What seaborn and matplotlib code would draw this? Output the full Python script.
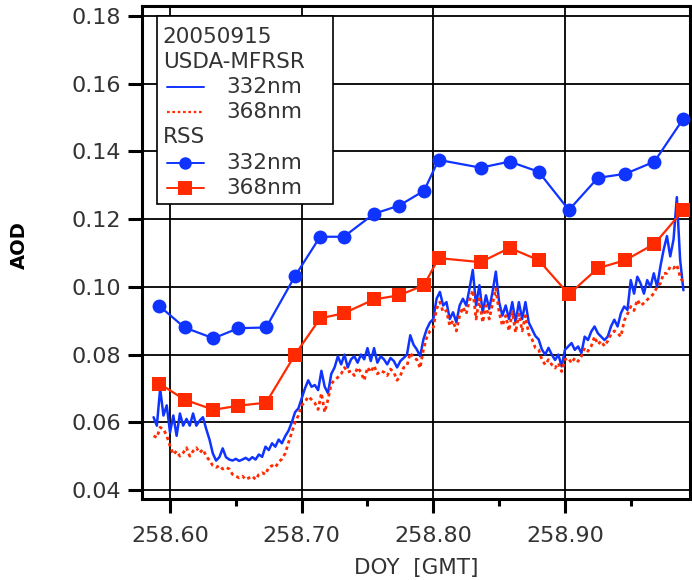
import numpy as np
import pandas as pd
import matplotlib
matplotlib.use("Agg")
import matplotlib.pyplot as plt
from matplotlib.lines import Line2D
from matplotlib.patches import Rectangle
from matplotlib.ticker import MultipleLocator, FormatStrFormatter
import seaborn as sns

# ---- USDA-MFRSR record (fixed sampling interval in DOY) ----
mfrsr_start = 258.5875
mfrsr_step = 0.0025
mfrsr_332 = [
    0.0615, 0.0590, 0.0700, 0.0620, 0.0650, 0.0570, 0.0620, 0.0560, 0.0626, 0.0590,
    0.0610, 0.0590, 0.0626, 0.0590, 0.0605, 0.0615, 0.0580, 0.0549, 0.0508, 0.0487,
    0.0497, 0.0523, 0.0497, 0.0490, 0.0487, 0.0492, 0.0486, 0.0490, 0.0495, 0.0488,
    0.0497, 0.0490, 0.0505, 0.0498, 0.0528, 0.0518, 0.0538, 0.0528, 0.0549, 0.0538,
    0.0559, 0.0575, 0.0600, 0.0630, 0.0641, 0.0670, 0.0700, 0.0724, 0.0705, 0.0710,
    0.0695, 0.0752, 0.0705, 0.0686, 0.0743, 0.0762, 0.0795, 0.0771, 0.0800, 0.0762,
    0.0786, 0.0795, 0.0776, 0.0800, 0.0786, 0.0819, 0.0781, 0.0819, 0.0776, 0.0795,
    0.0786, 0.0771, 0.0790, 0.0781, 0.0762, 0.0781, 0.0790, 0.0800, 0.0857, 0.0829,
    0.0815, 0.0795, 0.0845, 0.0875, 0.0895, 0.0905, 0.0965, 0.0985, 0.0945, 0.0955,
    0.0905, 0.0925, 0.0895, 0.0945, 0.0965, 0.0945, 0.0995, 0.1050, 0.0945, 0.1005,
    0.0925, 0.0975, 0.0935, 0.0985, 0.1045, 0.0955, 0.0915, 0.0945, 0.0905, 0.0955,
    0.0895, 0.0955, 0.0905, 0.0955, 0.0895, 0.0875, 0.0855, 0.0845, 0.0815, 0.0800,
    0.0820, 0.0800, 0.0784, 0.0800, 0.0765, 0.0814, 0.0824, 0.0834, 0.0814, 0.0824,
    0.0804, 0.0853, 0.0843, 0.0868, 0.0883, 0.0863, 0.0853, 0.0843, 0.0853, 0.0883,
    0.0903, 0.0883, 0.0922, 0.0942, 0.0932, 0.1020, 0.0980, 0.1030, 0.1010, 0.0980,
    0.1020, 0.1000, 0.1040, 0.1000, 0.1060, 0.1110, 0.1150, 0.1090, 0.1140, 0.1265,
    0.1080, 0.0990,
]
mfrsr_368 = [
    0.0560, 0.0555, 0.0585, 0.0580, 0.0560, 0.0530, 0.0505, 0.0515, 0.0500, 0.0510,
    0.0525, 0.0500, 0.0515, 0.0525, 0.0510, 0.0520, 0.0500, 0.0487, 0.0472, 0.0467,
    0.0472, 0.0462, 0.0467, 0.0462, 0.0446, 0.0441, 0.0436, 0.0441, 0.0431, 0.0436,
    0.0441, 0.0431, 0.0446, 0.0451, 0.0446, 0.0467, 0.0472, 0.0467, 0.0482, 0.0492,
    0.0508, 0.0540, 0.0570, 0.0600, 0.0620, 0.0650, 0.0660, 0.0676, 0.0667, 0.0657,
    0.0638, 0.0686, 0.0630, 0.0667, 0.0714, 0.0724, 0.0733, 0.0743, 0.0762, 0.0748,
    0.0752, 0.0738, 0.0762, 0.0748, 0.0724, 0.0762, 0.0748, 0.0767, 0.0743, 0.0752,
    0.0748, 0.0738, 0.0757, 0.0748, 0.0724, 0.0738, 0.0762, 0.0767, 0.0805, 0.0791,
    0.0785, 0.0760, 0.0815, 0.0850, 0.0870, 0.0880, 0.0935, 0.0955, 0.0925, 0.0930,
    0.0885, 0.0900, 0.0870, 0.0915, 0.0940, 0.0920, 0.0960, 0.0990, 0.0905, 0.0965,
    0.0895, 0.0945, 0.0905, 0.0950, 0.0995, 0.0925, 0.0885, 0.0915, 0.0870, 0.0925,
    0.0865, 0.0920, 0.0870, 0.0915, 0.0860, 0.0845, 0.0820, 0.0815, 0.0785, 0.0770,
    0.0785, 0.0770, 0.0760, 0.0775, 0.0750, 0.0785, 0.0790, 0.0775, 0.0790, 0.0780,
    0.0795, 0.0820, 0.0810, 0.0825, 0.0853, 0.0830, 0.0840, 0.0825, 0.0840, 0.0860,
    0.0870, 0.0863, 0.0853, 0.0900, 0.0920, 0.0942, 0.0930, 0.0962, 0.0945, 0.0952,
    0.0962, 0.0971, 0.0980, 0.1000, 0.1010, 0.1040, 0.1040, 0.1060, 0.1055, 0.1065,
    0.1030, 0.1010,
]

# ---- RSS retrievals ----
rss_doy = [258.592, 258.611, 258.633, 258.652, 258.673, 258.695, 258.714, 258.732,
           258.755, 258.774, 258.793, 258.804, 258.836, 258.858, 258.880, 258.903,
           258.925, 258.946, 258.968, 258.990]
rss_332 = [0.0943, 0.0880, 0.0848, 0.0878, 0.0880, 0.1032, 0.1148, 0.1148, 0.1216, 0.1240,
           0.1284, 0.1375, 0.1352, 0.1370, 0.1340, 0.1227, 0.1322, 0.1334, 0.1370, 0.1497]
rss_368 = [0.0714, 0.0667, 0.0637, 0.0649, 0.0658, 0.0800, 0.0907, 0.0922, 0.0963, 0.0975,
           0.1005, 0.1085, 0.1073, 0.1115, 0.1079, 0.0978, 0.1055, 0.1079, 0.1127, 0.1227]

x_ticks = [258.60, 258.70, 258.80, 258.90]
y_ticks = [0.04, 0.06, 0.08, 0.10, 0.12, 0.14, 0.16, 0.18]

legend_rows = ["20050915", "USDA-MFRSR", "332nm", "368nm", "RSS", "332nm", "368nm"]

BLUE = "#1034FF"
RED = "#FF2A00"
TICK_GREY = "#333333"
DOTTED = (0, (1.2, 1.2))

sns.set_theme(style="ticks")
plt.rcParams["font.family"] = ["DejaVu Sans"]

mfrsr = pd.DataFrame({
    "doy": mfrsr_start + mfrsr_step * np.arange(len(mfrsr_332)),
    "aod332": mfrsr_332,
    "aod368": mfrsr_368,
})
rss = pd.DataFrame({"doy": rss_doy, "aod332": rss_332, "aod368": rss_368})

fig = plt.figure(figsize=(6.92, 5.80), dpi=100)
ax = fig.add_axes([0.2048, 0.1391, 0.7923, 0.8514])

# grid underneath the data
for xv in x_ticks:
    ax.axvline(xv, color="black", lw=1.3, zorder=0.5)
for yv in y_ticks:
    ax.axhline(yv, color="black", lw=1.3, zorder=0.5)

sns.lineplot(data=mfrsr, x="doy", y="aod332", ax=ax, color=BLUE, lw=1.8,
             estimator=None, sort=False, legend=False, zorder=2)
sns.lineplot(data=mfrsr, x="doy", y="aod368", ax=ax, color=RED, lw=2.0,
             linestyle=DOTTED, estimator=None, sort=False, legend=False, zorder=2.5)
sns.lineplot(data=rss, x="doy", y="aod332", ax=ax, color=BLUE, lw=1.6,
             marker="o", markersize=10, markeredgewidth=0, markerfacecolor=BLUE,
             estimator=None, sort=False, legend=False, zorder=3)
sns.lineplot(data=rss, x="doy", y="aod368", ax=ax, color=RED, lw=1.6,
             marker="s", markersize=10, markeredgewidth=0, markerfacecolor=RED,
             estimator=None, sort=False, legend=False, zorder=3)

ax.set_xlim(258.5785, 258.995)
ax.set_ylim(0.03725, 0.1831)
ax.set_xticks(x_ticks)
ax.set_yticks(y_ticks)
ax.xaxis.set_minor_locator(MultipleLocator(0.05))
ax.xaxis.set_major_formatter(FormatStrFormatter("%.2f"))
ax.yaxis.set_major_formatter(FormatStrFormatter("%.2f"))
ax.tick_params(axis="both", which="major", direction="out", length=10, width=2.2,
               color="black", labelsize=16, labelcolor=TICK_GREY)
ax.tick_params(axis="x", which="major", pad=9)
ax.tick_params(axis="y", which="major", pad=5)
ax.tick_params(axis="x", which="minor", direction="out", length=5, width=2.2, color="black")
for sp in ax.spines.values():
    sp.set_visible(True)
    sp.set_color("black")
    sp.set_linewidth(2.2)

ax.set_xlabel("DOY  [GMT]", fontsize=15.5, color=TICK_GREY,
              family=["Liberation Sans Narrow", "DejaVu Sans"])
ax.xaxis.set_label_coords(0.5, -0.118)
ax.set_ylabel("AOD", fontsize=14, fontweight="bold", color="black")
ax.yaxis.set_label_coords(-0.205, 0.515)

# ---- legend panel ----
W_AX, H_AX = 548.3, 493.8  # axes size in pixels
def fx(px):
    return px / W_AX
def fy(py):
    return 1 - py / H_AX

box_left, box_top, box_w, box_h = 15, 10, 176, 188
ax.add_patch(Rectangle((fx(box_left), fy(box_top + box_h)), box_w / W_AX, box_h / H_AX,
                       transform=ax.transAxes, facecolor="white", edgecolor="black",
                       lw=1.2, zorder=6))
row_first, row_pitch = 31, 25.2
header_x, handle_x0, handle_x1, label_x = 21, 25, 62, 85
handle_styles = [
    None,
    None,
    dict(color=BLUE, lw=1.4),
    dict(color=RED, lw=1.6, linestyle=DOTTED),
    None,
    dict(color=BLUE, lw=1.4, marker="o", markersize=9, markeredgewidth=0),
    dict(color=RED, lw=1.4, marker="s", markersize=10, markeredgewidth=0),
]
for i, (label, style) in enumerate(zip(legend_rows, handle_styles)):
    yrow = fy(row_first + i * row_pitch)
    if style is None:
        ax.text(fx(header_x), yrow, label, transform=ax.transAxes, fontsize=15.5,
                color=TICK_GREY, va="center", ha="left", zorder=7)
        continue
    line_style = {k: v for k, v in style.items() if k not in ("marker", "markersize", "markeredgewidth")}
    ax.add_line(Line2D([fx(handle_x0), fx(handle_x1)], [yrow, yrow],
                       transform=ax.transAxes, zorder=7, **line_style))
    if "marker" in style:
        ax.add_line(Line2D([(fx(handle_x0) + fx(handle_x1)) / 2], [yrow],
                           transform=ax.transAxes, zorder=7.5, linestyle="none",
                           color=style["color"], marker=style["marker"],
                           markersize=style["markersize"], markeredgewidth=0))
    ax.text(fx(label_x), yrow, label, transform=ax.transAxes, fontsize=15.5,
            color=TICK_GREY, va="center", ha="left", zorder=7)

fig.savefig("out.png", dpi=100)
